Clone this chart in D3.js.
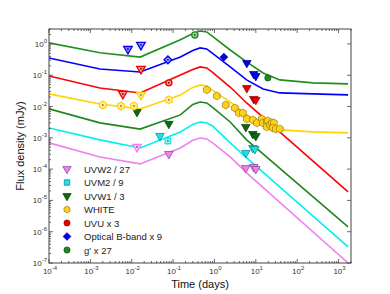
<!DOCTYPE html>
<html>
<head>
<meta charset="utf-8">
<script src="https://cdn.jsdelivr.net/npm/d3@7"></script>
<style>
body { margin: 0; background: #fff; }
svg { font-family: "Liberation Sans", Arial, sans-serif; }
</style>
</head>
<body>
<svg id="chart"></svg>
<script>
const WIDTH = 390
const HEIGHT = 294
const MARGIN = {left: 49, top: 29, right: 39, bottom: 31}

// model curves (time in days, flux in mJy)
const modelTimes = [1e-4, 1.7e-3, 0.016, 0.15, 0.3, 0.45, 0.65, 0.9, 2.4, 6, 15, 38, 240, 1700]
const gModel     = [1.08, 0.52, 0.38, 1.37, 2.16, 2.6, 2.42, 1.74, 0.64, 0.266, 0.118, 0.071, 0.057, 0.053]
const bModel     = [0.357, 0.159, 0.127, 0.384, 0.62, 0.745, 0.69, 0.50, 0.184, 0.071, 0.0365, 0.0272, 0.0253, 0.0235]
const uvuModel   = [0.095, 0.039, 0.0272, 0.102, 0.153, 0.184, 0.171, 0.123, 0.042, 0.013, null, null, null, 1.87e-5]
const whiteModel = [0.0253, 0.0121, 0.0084, 0.0235, 0.0408, 0.049, 0.0455, 0.0327, 0.014, 0.0054, 0.00258, 0.00179, 0.00155, 0.00144]
const uvw1Model  = [0.0084, 0.003, 0.0019, 0.0054, 0.0117, 0.014, 0.013, 0.0094, 0.0032, 8.6e-4, null, null, null, 1.42e-6]
const uvm2Model  = [0.00207, 8.6e-4, 4.75e-4, 0.00154, 0.00268, 0.0032, 0.00299, 0.0024, 6.9e-4, 2.28e-4, null, null, null, 3.27e-7]
const uvw2Model  = [6.9e-4, 2.45e-4, 1.47e-4, 4.75e-4, 8.3e-4, 9.9e-4, 9.2e-4, 6.9e-4, 2.45e-4, 7.6e-5, null, null, null, 1e-7]

// observations: [time, flux, "lim" (upper limit) or "det", open marker, error (dex)]
const uvw2Obs = [
  [0.0134, 5.1e-4, "lim", true],
  [0.079, 3.06e-4, "lim", false],
  [5.73, 1.09e-4, "lim", false],
  [8.9, 1.17e-4, "lim", false],
  [10, 1.01e-4, "lim", false]
]
const uvm2Obs = [
  [0.048, 1.15e-3, "lim", false],
  [0.075, 8.0e-4, "det", true, 0.12],
  [5.73, 3.3e-4, "lim", false],
  [8.47, 4.75e-4, "lim", false],
  [9.46, 4.4e-4, "lim", false]
]
const uvw1Obs = [
  [0.0134, 6.7e-3, "lim", false],
  [0.079, 2.8e-3, "lim", false],
  [5.73, 2.23e-3, "lim", false],
  [8.47, 1.33e-3, "lim", false],
  [10, 1.15e-3, "lim", false]
]
const whiteObs = [
  [0.002, 0.0112, "det", true, 0.06],
  [0.0055, 0.0104, "det", true, 0.08],
  [0.0113, 0.0104, "det", true, 0.08],
  [0.0167, 0.0235, "lim", true],
  [0.079, 0.0163, "det", true, 0.05],
  [0.655, 0.034, "det", false],
  [1.14, 0.0218, "det", false],
  [1.88, 0.0112, "det", false],
  [3.11, 0.0090, "det", false],
  [3.88, 0.00625, "det", false],
  [4.85, 0.00625, "det", false],
  [6.06, 0.00402, "det", false],
  [8.47, 0.00373, "det", false],
  [10.6, 0.00299, "det", false],
  [13.96, 0.00402, "det", false],
  [14.8, 0.00299, "det", false],
  [18.4, 0.00322, "det", false],
  [19.5, 0.00347, "det", false],
  [18.4, 0.00223, "det", false],
  [21.8, 0.00258, "det", false],
  [24.3, 0.00299, "det", false],
  [27.2, 0.00299, "det", false],
  [25.8, 0.00207, "det", false, 0.05],
  [30.4, 0.00192, "det", false],
  [38, 0.00192, "det", false]
]
const uvuObs = [
  [0.0061, 0.0253, "lim", true],
  [0.0167, 0.159, "lim", true],
  [0.079, 0.057, "det", true, 0.1],
  [6.06, 0.039, "lim", false],
  [8.9, 0.0175, "lim", false],
  [10, 0.0163, "lim", false]
]
const bObs = [
  [0.0081, 0.69, "lim", true],
  [0.0167, 0.93, "lim", true],
  [0.075, 0.31, "det", true, 0.08],
  [1.69, 0.38, "det", false],
  [6.06, 0.247, "lim", false],
  [8.9, 0.11, "lim", false],
  [10, 0.095, "lim", false]
]
const gObs = [
  [0.336, 1.94, "det", true],
  [19.5, 0.082, "det", false]
]

const legendLabels = ["UVW2 / 27", "UVM2 / 9", "UVW1 / 3", "WHITE", "UVU x 3", "Optical B-band x 9", "g' x 27"]
const xTickExps = [-4, -3, -2, -1, 0, 1, 2, 3]
const yTickExps = [-7, -6, -5, -4, -3, -2, -1, 0]

// hexagon symbol for WHITE
const symbolHex = {
  draw(ctx, size) {
    const r = Math.sqrt(size / (1.5 * Math.sqrt(3)))
    for (let i = 0; i < 6; i++) {
      const a = Math.PI / 3 * i - Math.PI / 2
      if (i == 0) ctx.moveTo(r * Math.cos(a), r * Math.sin(a))
      else ctx.lineTo(r * Math.cos(a), r * Math.sin(a))
    }
    ctx.closePath()
  }
}

const bands = [
  {model: uvw2Model, obs: uvw2Obs, line: "#ee82ee", fill: "#ee82ee", edge: "#8a3c8a", sym: d3.symbolTriangle, rot: 180},
  {model: uvm2Model, obs: uvm2Obs, line: "#00f0f0", fill: "#22e0e6", edge: "#007f86", sym: d3.symbolSquare, rot: 0},
  {model: uvw1Model, obs: uvw1Obs, line: "#1f861f", fill: "#0d6b0d", edge: "#043b04", sym: d3.symbolTriangle, rot: 180},
  {model: whiteModel, obs: whiteObs, line: "#ffd400", fill: "#ffd21a", edge: "#9a7a10", sym: symbolHex, rot: 0},
  {model: uvuModel, obs: uvuObs, line: "#ff0000", fill: "#ee0000", edge: "#8a0000", sym: d3.symbolCircle, rot: 0},
  {model: bModel, obs: bObs, line: "#0000ff", fill: "#0000ee", edge: "#00008a", sym: d3.symbolSquare, rot: 45},
  {model: gModel, obs: gObs, line: "#1f8f1f", fill: "#1f8a1f", edge: "#0c4a0c", sym: d3.symbolCircle, rot: 0}
]

const svg = d3.select("#chart").attr("width", WIDTH).attr("height", HEIGHT)

const xScale = d3.scaleLog().domain([1e-4, 2000]).range([MARGIN.left, WIDTH - MARGIN.right])
const yScale = d3.scaleLog().domain([1e-7, 3]).range([HEIGHT - MARGIN.bottom, MARGIN.top])

const x0 = MARGIN.left, x1 = WIDTH - MARGIN.right
const y0 = HEIGHT - MARGIN.bottom, y1 = MARGIN.top

svg.append("clipPath").attr("id", "plotClip")
  .append("rect").attr("x", x0).attr("y", y1).attr("width", x1 - x0).attr("height", y0 - y1)

// model lines
const line = d3.line().x(d => xScale(d[0])).y(d => yScale(d[1]))
const lineGroup = svg.append("g").attr("clip-path", "url(#plotClip)")
bands.forEach(b => {
  const pts = modelTimes.map((t, i) => [t, b.model[i]]).filter(d => d[1] != null)
  lineGroup.append("path")
    .attr("d", line(pts))
    .attr("fill", "none")
    .attr("stroke", b.line)
    .attr("stroke-width", 1.6)
})

// markers
function markerPath(b, kind) {
  if (kind == "lim") return d3.symbol(d3.symbolTriangle, 32)()
  if (b.sym == symbolHex) return d3.symbol(symbolHex, 40)()
  if (b.rot == 45) return d3.symbol(d3.symbolSquare, 30)()
  return d3.symbol(b.sym, 30)()
}

const markGroup = svg.append("g")
bands.forEach(b => {
  b.obs.forEach(d => {
    const cx = xScale(d[0]), cy = yScale(d[1])
    if (d[4]) {
      markGroup.append("line")
        .attr("x1", cx).attr("x2", cx)
        .attr("y1", yScale(d[1] * Math.pow(10, d[4])))
        .attr("y2", yScale(d[1] / Math.pow(10, d[4])))
        .attr("stroke", b.edge).attr("stroke-width", 1)
    }
    const rot = d[2] == "lim" ? 180 : b.rot
    markGroup.append("path")
      .attr("d", markerPath(b, d[2]))
      .attr("transform", `translate(${cx},${cy}) rotate(${rot})`)
      .attr("fill", d[3] ? d3.interpolateRgb(b.fill, "#fff")(0.6) : b.fill)
      .attr("stroke", d[3] ? b.fill : b.edge)
      .attr("stroke-width", d[3] ? 1.3 : 0.7)
    if (d[3]) {
      markGroup.append("circle")
        .attr("cx", cx).attr("cy", cy).attr("r", 0.9)
        .attr("fill", b.edge)
    }
  })
})

// frame and ticks
const axisColor = "#444"
svg.append("rect")
  .attr("x", x0).attr("y", y1).attr("width", x1 - x0).attr("height", y0 - y1)
  .attr("fill", "none").attr("stroke", axisColor).attr("stroke-width", 1)

const tickGroup = svg.append("g").attr("stroke", axisColor).attr("stroke-width", 0.8)
for (let e = -4; e <= 3; e++) {
  for (let m = 1; m <= 9; m++) {
    const v = m * Math.pow(10, e)
    if (v > 2000) continue
    const x = xScale(v)
    const len = m == 1 ? 4 : 2
    tickGroup.append("line").attr("x1", x).attr("x2", x).attr("y1", y0).attr("y2", y0 - len)
    tickGroup.append("line").attr("x1", x).attr("x2", x).attr("y1", y1).attr("y2", y1 + len)
  }
}
for (let e = -7; e <= 0; e++) {
  for (let m = 1; m <= 9; m++) {
    const v = m * Math.pow(10, e)
    if (v > 3) continue
    const y = yScale(v)
    const len = m == 1 ? 4 : 2
    tickGroup.append("line").attr("x1", x0).attr("x2", x0 + len).attr("y1", y).attr("y2", y)
    if (m == 1) tickGroup.append("line").attr("x1", x1).attr("x2", x1 - len).attr("y1", y).attr("y2", y)
  }
}

// tick labels, 10 with superscript
function powLabel(sel, e) {
  sel.append("tspan").text("10")
  sel.append("tspan").attr("dy", -4).attr("font-size", 6).text(e)
}
xTickExps.forEach(e => {
  const t = svg.append("text")
    .attr("x", xScale(Math.pow(10, e)) + 1)
    .attr("y", y0 + 11)
    .attr("text-anchor", "middle")
    .attr("font-size", 8)
    .attr("fill", "#333")
  powLabel(t, e)
})
yTickExps.forEach(e => {
  const t = svg.append("text")
    .attr("x", x0 - 2)
    .attr("y", yScale(Math.pow(10, e)) + 3)
    .attr("text-anchor", "end")
    .attr("font-size", 8)
    .attr("fill", "#333")
  powLabel(t, e)
})

// axis titles
svg.append("text")
  .attr("x", (x0 + x1) / 2)
  .attr("y", HEIGHT - 6)
  .attr("text-anchor", "middle")
  .attr("font-size", 11)
  .attr("fill", "#111")
  .text("Time (days)")
svg.append("text")
  .attr("transform", `translate(24,${(y0 + y1) / 2}) rotate(-90)`)
  .attr("text-anchor", "middle")
  .attr("font-size", 11)
  .attr("fill", "#111")
  .text("Flux density (mJy)")

// legend
const legend = svg.append("g")
legendLabels.forEach((label, i) => {
  const b = bands[i]
  const ly = 169 + i * 13.5
  legend.append("path")
    .attr("d", d3.symbol(b.sym, b.sym == symbolHex ? 30 : 30)())
    .attr("transform", `translate(67,${ly}) rotate(${b.rot})`)
    .attr("fill", b.fill)
    .attr("stroke", b.edge)
    .attr("stroke-width", 0.7)
  legend.append("text")
    .attr("x", 84)
    .attr("y", ly + 3.5)
    .attr("font-size", 9.5)
    .attr("fill", "#222")
    .text(label)
})
</script>
</body>
</html>
